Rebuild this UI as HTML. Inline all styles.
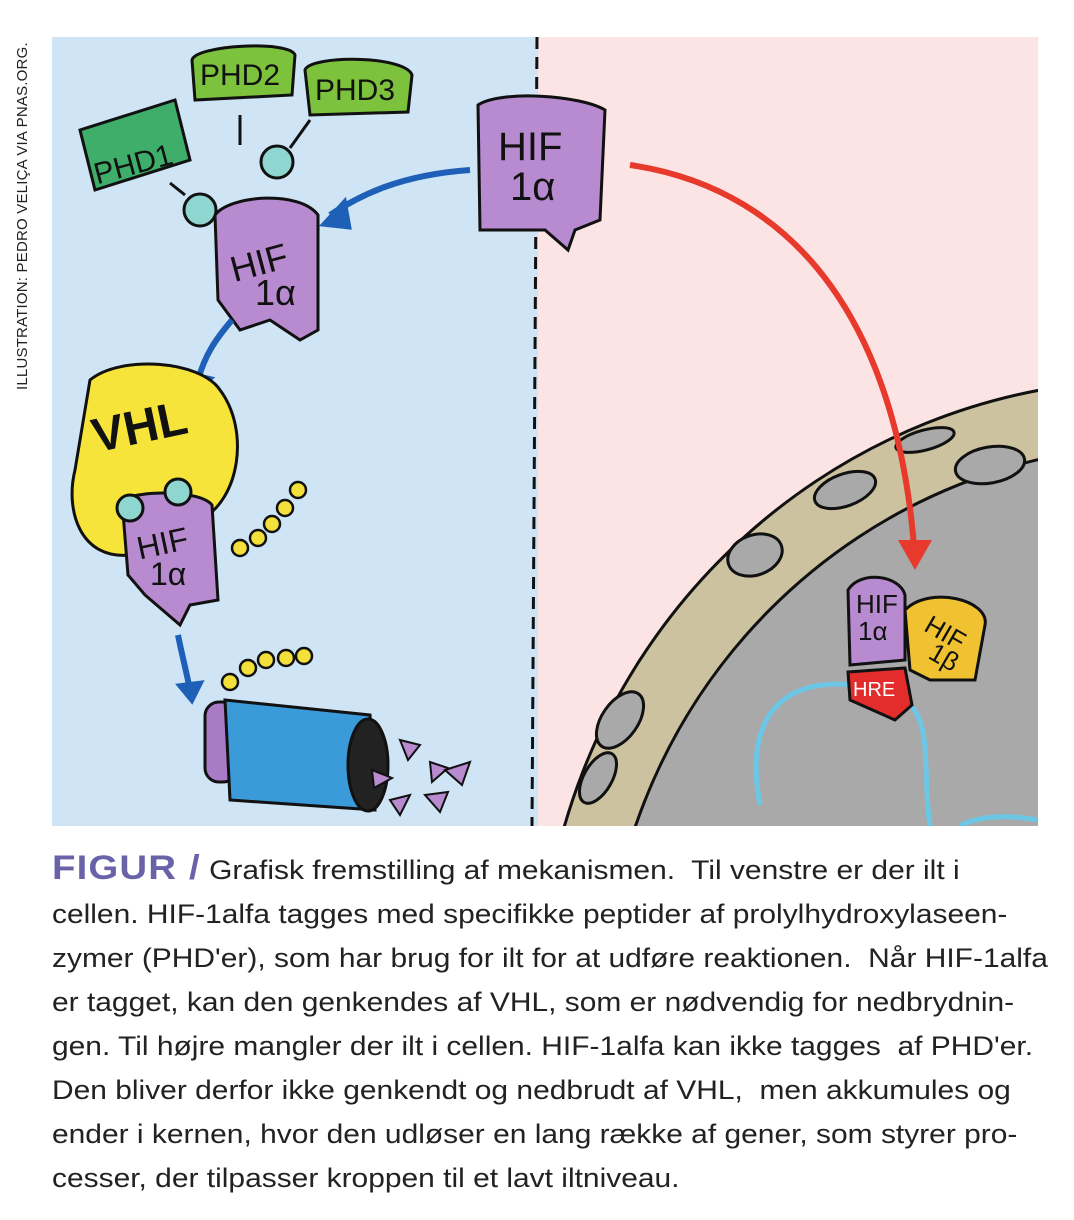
<!DOCTYPE html>
<html><head><meta charset="utf-8"><style>
html,body{margin:0;width:1074px;height:1220px;overflow:hidden}
body{background:#fff;position:relative;font-family:"Liberation Sans",sans-serif}
.cap{position:absolute;left:52px;top:846px;font-size:26.5px;line-height:44px;color:#222;white-space:nowrap;transform:scaleX(1.13);transform-origin:0 0}
.fig{color:#6a62a8;font-weight:bold;font-size:34px;letter-spacing:1px}
.vt{position:absolute;left:14px;top:390px;transform-origin:0 0;transform:rotate(-90deg);font-size:15px;line-height:18px;color:#222;white-space:nowrap;letter-spacing:0.2px}
</style></head><body>
<div class="vt">ILLUSTRATION: PEDRO VELIÇA VIA PNAS.ORG.</div>
<svg style="position:absolute;left:0;top:0" width="1074" height="840">
<defs><clipPath id="c"><rect x="52" y="37" width="986" height="789"/></clipPath></defs>
<g clip-path="url(#c)" stroke="#111" stroke-width="3" font-family="Liberation Sans,sans-serif">
<rect x="52" y="37" width="486" height="789" fill="#cfe4f4" stroke="none"/>
<rect x="538" y="37" width="500" height="789" fill="#fce4e4" stroke="none"/>
<line x1="537" y1="37" x2="532" y2="826" stroke-dasharray="12 8"/>
<ellipse cx="1150" cy="1000" rx="610" ry="620" fill="#cdc2a0"/>
<ellipse cx="1165" cy="1010" rx="560" ry="565" fill="#a9a9a9"/>
<g fill="#a9a9a9">
<ellipse cx="598" cy="778" rx="14" ry="28" transform="rotate(30 598 778)"/>
<ellipse cx="620" cy="720" rx="18" ry="32" transform="rotate(35 620 720)"/>
<ellipse cx="755" cy="555" rx="28" ry="20" transform="rotate(-20 755 555)"/>
<ellipse cx="845" cy="490" rx="32" ry="16" transform="rotate(-20 845 490)"/>
<ellipse cx="925" cy="440" rx="30" ry="10" transform="rotate(-15 925 440)"/>
<ellipse cx="990" cy="465" rx="35" ry="18" transform="rotate(-10 990 465)"/>
</g>
<path d="M760 805 C740 700 800 670 880 690 C940 700 920 760 930 826" fill="none" stroke="#6cc6e6" stroke-width="5"/>
<path d="M960 826 C980 815 1010 815 1038 820" fill="none" stroke="#6cc6e6" stroke-width="5"/>
<path d="M848 590 C860 570 900 575 905 595 L905 660 L850 665 Z" fill="#b88ad0"/>
<path d="M905 610 C930 585 990 600 985 625 L975 680 L930 680 L910 670 Z" fill="#f0c232"/>
<path d="M848 672 L905 668 L912 705 L895 720 L850 700 Z" fill="#e32c2c"/>
<g stroke="none" font-size="26" fill="#111"><text x="856" y="613">HIF</text><text x="858" y="640">1α</text>
<text x="920" y="640" transform="rotate(30 940 640)">HIF</text><text x="925" y="665" transform="rotate(30 940 665)">1β</text>
<text x="853" y="696" fill="#fff" font-size="20">HRE</text></g>
<path d="M630 165 C800 190 900 330 915 560" fill="none" stroke="#e8392d" stroke-width="6"/>
<path d="M898 540 L932 540 L915 570 Z" fill="#e8392d" stroke="none"/>
<path d="M478 105 C500 90 580 95 605 110 L600 220 L575 230 L568 250 L545 230 L480 230 Z" fill="#b88ad0"/>
<g stroke="none" font-size="40" fill="#111"><text x="498" y="160">HIF</text><text x="510" y="200">1α</text></g>
<path d="M470 170 C400 175 360 195 330 215" fill="none" stroke="#1e5fb8" stroke-width="6"/>
<path d="M322 225 L345 200 L350 228 Z" fill="#1e5fb8" stroke="#1e5fb8"/>
<path d="M80 130 L175 100 L190 160 L95 190 Z" fill="#3fae6a"/>
<path d="M192 60 C195 45 290 40 295 55 L292 95 L195 100 Z" fill="#7cc23c"/>
<path d="M305 70 C310 55 405 55 412 75 L408 112 L310 115 Z" fill="#7cc23c"/>
<g stroke="none" font-size="30" fill="#111"><text x="92" y="175" transform="rotate(-15 130 160)">PHD1</text><text x="200" y="85">PHD2</text><text x="315" y="100">PHD3</text></g>
<path d="M215 215 C230 195 300 190 318 215 L318 330 L300 340 L270 320 L240 330 L218 300 Z" fill="#b88ad0"/>
<g stroke="none" font-size="36" fill="#111"><text x="232" y="275" transform="rotate(-15 260 270)">HIF</text><text x="255" y="305">1α</text></g>
<circle cx="200" cy="210" r="16" fill="#8fd6d0"/><circle cx="277" cy="162" r="16" fill="#8fd6d0"/>
<path d="M240 115 L240 145 M310 120 L290 148 M170 183 L185 195" fill="none"/>
<path d="M232 320 C215 340 205 355 198 380" fill="none" stroke="#1e5fb8" stroke-width="6"/>
<path d="M185 372 L212 378 L195 392 Z" fill="#1e5fb8" stroke="#1e5fb8"/>
<path d="M90 380 C120 355 200 360 220 390 C250 430 240 500 200 520 L130 555 C80 560 65 510 75 470 Z" fill="#f7e43a"/>
<text x="92" y="445" font-size="48" fill="#111" stroke="none" font-weight="bold" transform="rotate(-12 130 430)">VHL</text>
<path d="M122 500 C140 490 200 490 212 505 L218 600 L190 605 L180 625 L145 595 L128 575 Z" fill="#b88ad0"/>
<circle cx="130" cy="508" r="13" fill="#8fd6d0"/><circle cx="178" cy="492" r="13" fill="#8fd6d0"/>
<g stroke="none" font-size="32" fill="#111"><text x="138" y="555" transform="rotate(-12 160 550)">HIF</text><text x="150" y="585">1α</text></g>
<g fill="#f4e03a" stroke-width="2.5"><circle cx="240" cy="548" r="8"/><circle cx="258" cy="538" r="8"/><circle cx="272" cy="524" r="8"/><circle cx="285" cy="508" r="8"/><circle cx="298" cy="490" r="8"/>
<circle cx="230" cy="682" r="8"/><circle cx="248" cy="668" r="8"/><circle cx="266" cy="660" r="8"/><circle cx="286" cy="658" r="8"/><circle cx="304" cy="656" r="8"/></g>
<path d="M178 635 C182 655 186 670 190 690" fill="none" stroke="#1e5fb8" stroke-width="6"/>
<path d="M178 685 L202 682 L192 702 Z" fill="#1e5fb8" stroke="#1e5fb8"/>
<rect x="205" y="702" width="32" height="80" rx="14" fill="#a97bc6"/>
<path d="M225 700 L370 715 L375 810 L230 800 Z" fill="#3b9ad8"/>
<ellipse cx="368" cy="765" rx="20" ry="46" fill="#222"/>
<g fill="#b88ad0" stroke-width="2"><path d="M400 740 L420 745 L408 760Z"/><path d="M430 762 L448 768 L432 782Z"/><path d="M445 770 L470 762 L462 785Z"/><path d="M390 800 L410 795 L400 815Z"/><path d="M425 795 L448 792 L440 812Z"/><path d="M372 770 L392 778 L374 788Z"/></g>
</g>
</svg>
<div class="cap"><span class="fig">FIGUR /</span> Grafisk fremstilling af mekanismen.&nbsp; Til venstre er der ilt i<br>cellen. HIF-1alfa tagges med specifikke peptider af prolylhydroxylaseen-<br>zymer (PHD'er), som har brug for ilt for at udføre reaktionen.&nbsp; Når HIF-1alfa<br>er tagget, kan den genkendes af VHL, som er nødvendig for nedbrydnin-<br>gen. Til højre mangler der ilt i cellen. HIF-1alfa kan ikke tagges&nbsp; af PHD'er.<br>Den bliver derfor ikke genkendt og nedbrudt af VHL,&nbsp; men akkumules og<br>ender i kernen, hvor den udløser en lang række af gener, som styrer pro-<br>cesser, der tilpasser kroppen til et lavt iltniveau.</div>
</body></html>
